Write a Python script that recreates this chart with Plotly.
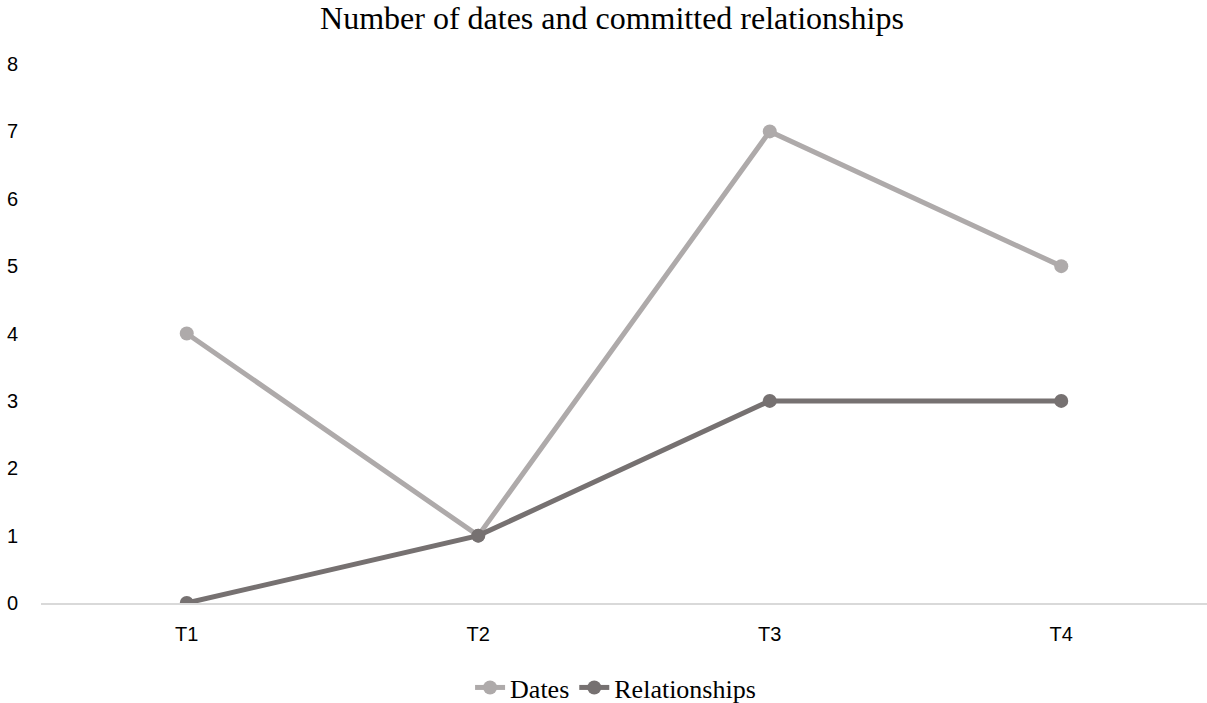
import plotly.graph_objects as go

periods = ["T1", "T2", "T3", "T4"]
dates = [4, 1, 7, 5]
relationships = [0, 1, 3, 3]

fig = go.Figure()
fig.add_trace(go.Scatter(
    x=periods, y=dates, name="Dates", mode="lines+markers",
    line=dict(color="#AEAAAA", width=5),
    marker=dict(color="#AEAAAA", size=14),
))
fig.add_trace(go.Scatter(
    x=periods, y=relationships, name="Relationships", mode="lines+markers",
    line=dict(color="#767171", width=5),
    marker=dict(color="#767171", size=14),
))

fig.update_layout(
    width=1207, height=703,
    margin=dict(l=41, r=0, t=64, b=100),
    paper_bgcolor="white", plot_bgcolor="white",
    title=dict(
        text="Number of dates and committed relationships",
        x=0.507, xanchor="center", y=0.975, yanchor="middle",
        font=dict(family="Liberation Serif", size=32, color="#000000"),
    ),
    xaxis=dict(
        type="category", range=[-0.5, 3.5],
        showgrid=False, zeroline=False,
        showline=True, linecolor="#D9D9D9", linewidth=2,
        ticks="", ticklabelstandoff=12,
        tickfont=dict(family="Liberation Sans", size=20, color="#000000"),
    ),
    yaxis=dict(
        range=[0, 8], dtick=1,
        showgrid=False, zeroline=False, showline=False,
        ticks="", ticklabelstandoff=22,
        tickfont=dict(family="Liberation Sans", size=20, color="#000000"),
    ),
    legend=dict(
        orientation="h", xref="container", yref="container",
        x=0.51, xanchor="center", y=0.022, yanchor="middle",
        font=dict(family="Liberation Serif", size=26, color="#000000"),
        itemwidth=30,
    ),
    showlegend=True,
)

fig.write_html("out.html")
